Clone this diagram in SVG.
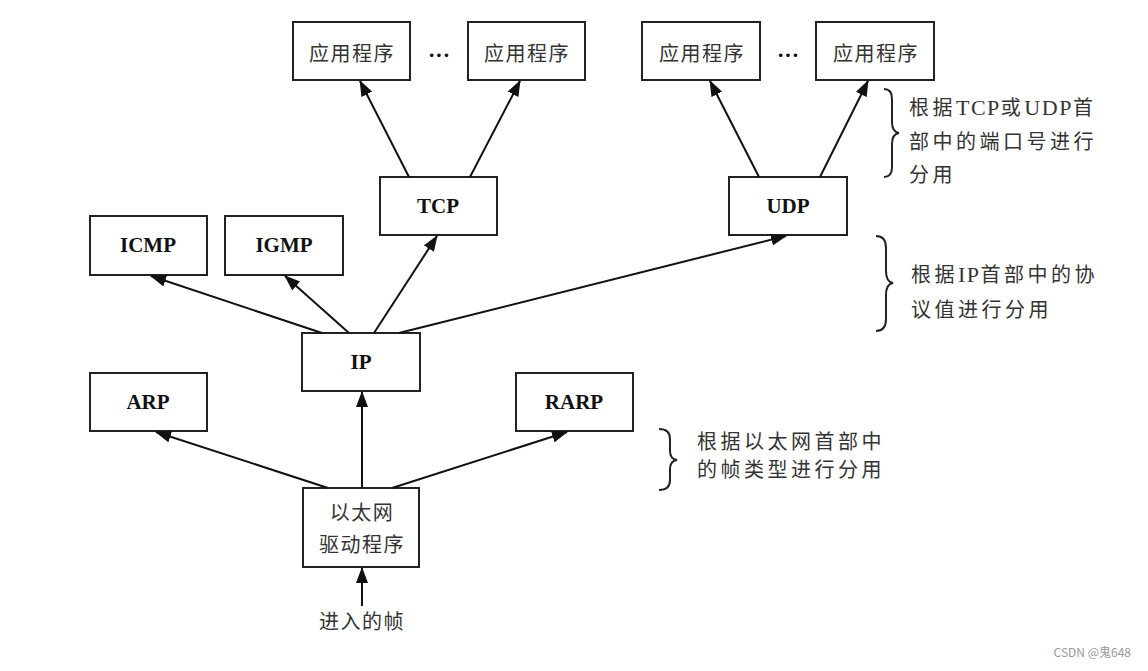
<svg xmlns="http://www.w3.org/2000/svg" width="1148" height="671" viewBox="0 0 1148 671">
<style>
.box{fill:#fff;stroke:#222;stroke-width:2}
.cn{font-family:"Noto Sans CJK SC","Noto Sans CJK JP",sans-serif;font-size:20px;fill:#333;letter-spacing:1.5px}
.en{font-family:"Liberation Serif",serif;font-weight:bold;font-size:21px;fill:#111}
.conn line{stroke:#111;stroke-width:2;marker-end:url(#ah)}
.brace{fill:none;stroke:#222;stroke-width:2}
.note{font-family:"Noto Sans CJK SC","Noto Sans CJK JP",sans-serif;font-size:20px;fill:#333;letter-spacing:3.5px}
.lat{font-family:"Liberation Serif",serif;font-size:22px;letter-spacing:1.5px}
</style>
<defs>
<marker id="ah" markerUnits="userSpaceOnUse" markerWidth="16" markerHeight="12" refX="15" refY="6" orient="auto">
<path d="M0,0 L16,6 L0,12 Z" fill="#111"/>
</marker>
</defs>
<rect width="1148" height="671" fill="#fff"/>

<g id="app1"><rect class="box" x="293" y="22" width="117" height="58"/><text class="cn" x="352" y="61" text-anchor="middle">应用程序</text></g>
<g id="app2"><rect class="box" x="468" y="22" width="117" height="58"/><text class="cn" x="527" y="61" text-anchor="middle">应用程序</text></g>
<g id="app3"><rect class="box" x="642" y="22" width="118" height="58"/><text class="cn" x="702" y="61" text-anchor="middle">应用程序</text></g>
<g id="app4"><rect class="box" x="816" y="22" width="118" height="58"/><text class="cn" x="876" y="61" text-anchor="middle">应用程序</text></g>
<g id="dots1"><text class="en" x="439" y="62" text-anchor="middle" style="font-size:22px">···</text></g>
<g id="dots2"><text class="en" x="788" y="62" text-anchor="middle" style="font-size:22px">···</text></g>

<g id="tcp"><rect class="box" x="380" y="177" width="117" height="58"/><text class="en" x="438" y="213" text-anchor="middle">TCP</text></g>
<g id="udp"><rect class="box" x="729" y="177" width="118" height="58"/><text class="en" x="788" y="213" text-anchor="middle">UDP</text></g>
<g id="icmp"><rect class="box" x="90" y="216" width="117" height="59"/><text class="en" x="148" y="252" text-anchor="middle">ICMP</text></g>
<g id="igmp"><rect class="box" x="225" y="216" width="118" height="59"/><text class="en" x="284" y="252" text-anchor="middle">IGMP</text></g>
<g id="ip"><rect class="box" x="302" y="333" width="118" height="58"/><text class="en" x="361" y="369" text-anchor="middle">IP</text></g>
<g id="arp"><rect class="box" x="90" y="373" width="117" height="58"/><text class="en" x="148" y="409" text-anchor="middle">ARP</text></g>
<g id="rarp"><rect class="box" x="516" y="373" width="117" height="58"/><text class="en" x="574" y="409" text-anchor="middle">RARP</text></g>
<g id="eth"><rect class="box" x="303" y="488" width="116" height="79"/><text class="cn" x="362" y="520" text-anchor="middle">以太网</text><text class="cn" x="362" y="552" text-anchor="middle">驱动程序</text></g>
<g id="frame"><text class="cn" x="362" y="629" text-anchor="middle">进入的帧</text></g>

<g id="connectors" class="conn">
<line x1="362" y1="606" x2="362" y2="568"/>
<line x1="328" y1="488" x2="156" y2="432"/>
<line x1="362" y1="488" x2="362" y2="392"/>
<line x1="392" y1="488" x2="567" y2="432"/>
<line x1="322" y1="333" x2="151" y2="276"/>
<line x1="349" y1="333" x2="285" y2="276"/>
<line x1="374" y1="333" x2="437" y2="236"/>
<line x1="399" y1="333" x2="786" y2="236"/>
<line x1="409" y1="177" x2="360" y2="81"/>
<line x1="470" y1="177" x2="520" y2="81"/>
<line x1="759" y1="177" x2="710" y2="81"/>
<line x1="820" y1="177" x2="868" y2="81"/>
</g>

<g id="note1">
<path class="brace" d="M884,89 Q892,89 892,99 L892,122 Q892,132 899,133 Q892,134 892,144 L892,167 Q892,177 884,177"/>
<text class="note" x="909" y="115">根据<tspan class="lat">TCP</tspan>或<tspan class="lat">UDP</tspan>首</text>
<text class="note" x="909" y="149">部中的端口号进行</text>
<text class="note" x="909" y="182">分用</text>
</g>
<g id="note2">
<path class="brace" d="M876,236 Q886,236 886,248 L886,271 Q886,282 893,283 Q886,284 886,295 L886,319 Q886,331 876,331"/>
<text class="note" x="911" y="282">根据<tspan class="lat">IP</tspan>首部中的协</text>
<text class="note" x="911" y="317">议值进行分用</text>
</g>
<g id="note3">
<path class="brace" d="M659,429 Q670,429 670,439 L670,451 Q670,459 677,460 Q670,461 670,469 L670,480 Q670,490 659,490"/>
<text class="note" x="697" y="449">根据以太网首部中</text>
<text class="note" x="697" y="477">的帧类型进行分用</text>
</g>
<text x="1131" y="657" text-anchor="end" style="font-family:'Noto Sans CJK SC',sans-serif;font-size:12px;fill:#999">CSDN @鬼648</text>
</svg>
